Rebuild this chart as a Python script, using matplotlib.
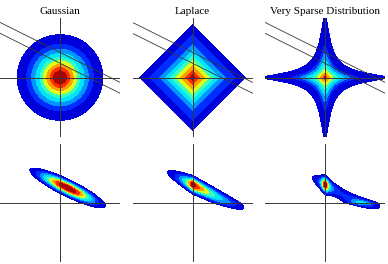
import numpy as np
import matplotlib
matplotlib.use('Agg')
import matplotlib.pyplot as plt

titles = ["Gaussian", "Laplace", "Very Sparse Distribution"]
# band boundaries of the prior contours (outer -> inner), read along an axis
gauss_bounds = [1.02, 0.82, 0.70, 0.60, 0.50, 0.42, 0.34, 0.26, 0.18]
laplace_bounds = [1.26, 1.05, 0.81, 0.67, 0.55, 0.43, 0.33, 0.21, 0.10]
sparse_bounds = [1.45, 0.81, 0.62, 0.46, 0.32, 0.21, 0.13, 0.07, 0.03]
sparse_width_top = 0.10   # Student-t like scale (prior panel)
sparse_width_post = 0.06  # Student-t like scale (posterior panel)
sparse_power = 0.6        # exponent of the Student-t like prior
# likelihood constraint lines  y = intercept + slope * x
line_slope = -0.5
line_intercepts = [0.60, 0.34]
like_center = 0.47
like_noise = 0.105
# prior scales used for the posteriors
gauss_sigma = 0.466
laplace_scale = 0.385
post_levels = [0.1, 0.2, 0.3, 0.4, 0.5, 0.6, 0.7, 0.8, 0.9, 1.0001]
# colormap positions of the bands (outer -> inner)
band_pos = [0.08, 0.17, 0.27, 0.35, 0.42, 0.62, 0.74, 0.86, 0.96]

XL = 1.43
YL = 1.42
W, H = 388, 264
fig = plt.figure(figsize=(W / 100, H / 100), dpi=100)

n = 1001
xs = np.linspace(-XL, XL, n)
ys = np.linspace(-YL, YL, n)
X, Y = np.meshgrid(xs, ys)

def t_field(x, y, s):
    return np.log1p((x / s)**2) + np.log1p((y / s)**2)

def norm_field(kind, s=sparse_width_top):
    if kind == 0:
        return np.sqrt(X**2 + Y**2)
    if kind == 1:
        return np.abs(X) + np.abs(Y)
    return t_field(X, Y, s)

def level_of(kind, r):
    if kind == 2:
        return np.log1p((r / sparse_width_top)**2)
    return r

def log_prior(kind):
    if kind == 0:
        return -norm_field(0)**2 / (2 * gauss_sigma**2)
    if kind == 1:
        return -norm_field(1) / laplace_scale
    return -sparse_power * norm_field(2, sparse_width_post)

bounds = [gauss_bounds, laplace_bounds, sparse_bounds]
cmap = plt.get_cmap('jet')
band_cols = [cmap(p) for p in band_pos]  # outer -> inner

lefts = [0, 132.5, 265]
axw = 120
top_y0, top_h = 264 - 137, 119
bot_y0, bot_h = 2, 118

line_col = (0.22, 0.22, 0.22)

for col in range(3):
    # top row: prior
    ax = fig.add_axes([lefts[col] / W, top_y0 / H, axw / W, top_h / H])
    R = norm_field(col)
    lv = [0.0] + [level_of(col, b) for b in bounds[col][::-1]]
    ax.contourf(X, Y, R, levels=lv, colors=band_cols[::-1], zorder=1)
    ax.axhline(0, color=line_col, lw=0.7, zorder=3)
    ax.axvline(0, color=line_col, lw=0.7, zorder=3)
    xx = np.array([-XL, XL])
    for b in line_intercepts:
        ax.plot(xx, b + line_slope * xx, color=line_col, lw=0.6, zorder=4)
    ax.set_xlim(-XL, XL)
    ax.set_ylim(-YL, YL)
    ax.axis('off')
    ax.set_title(titles[col], fontsize=8, family='Liberation Serif', pad=3)

    # bottom row: posterior
    ax2 = fig.add_axes([lefts[col] / W, bot_y0 / H, axw / W, bot_h / H])
    lp = log_prior(col) - (Y - line_slope * X - like_center)**2 / (2 * like_noise**2)
    P = np.exp(lp - lp.max())
    ax2.contourf(X, Y, P, levels=post_levels, colors=band_cols, zorder=1)
    ax2.axhline(0, color=line_col, lw=0.7, zorder=3)
    ax2.axvline(0, color=line_col, lw=0.7, zorder=3)
    ax2.set_xlim(-XL, XL)
    ax2.set_ylim(-YL, YL)
    ax2.axis('off')

fig.savefig('out.png', dpi=100)
